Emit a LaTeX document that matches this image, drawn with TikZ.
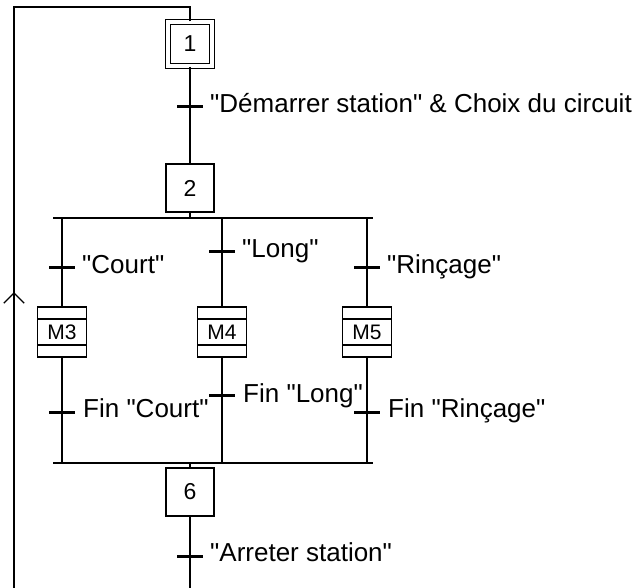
\documentclass[tikz,border=0pt]{standalone}
\usepackage{fontspec}
\setmainfont{Liberation Sans}[Ligatures=TeXOff]
\usetikzlibrary{arrows.meta}

\tikzset{
  wire/.style={line width=1.3pt},
  tbar/.style={line width=3pt},
  grafstep/.style={draw, line width=1.3pt, minimum width=48pt, minimum height=48pt,
    inner sep=0pt, font=\fontsize{23}{26}\selectfont},
  initstep/.style={grafstep, double, double distance=3.5pt,
    minimum width=44pt, minimum height=44pt},
  macrostep/.style={grafstep, minimum width=49pt, minimum height=50pt,
    font=\fontsize{21}{24}\selectfont,
    path picture={
      \draw[wire] ([yshift=-12pt]path picture bounding box.north west) -- ([yshift=-12pt]path picture bounding box.north east);
      \draw[wire] ([yshift=12pt]path picture bounding box.south west) -- ([yshift=12pt]path picture bounding box.south east);
    }},
  lbl/.style={font=\fontsize{26}{30}\selectfont, inner sep=0pt, anchor=base west}
}

\begin{document}
\begin{tikzpicture}[x=1pt,y=-1pt]
  \useasboundingbox (0,0) rectangle (639,588);
  % steps
  \node[initstep] (s1) at (190,44) {1};
  \node[grafstep] (s2) at (190,188) {2};
  \node[macrostep] (m3) at (62,332) {M3};
  \node[macrostep] (m4) at (222,332) {M4};
  \node[macrostep] (m5) at (367,332) {M5};
  \node[grafstep] (s6) at (190,492) {6};
  % helper points
  \coordinate (divL) at (53,218);
  \coordinate (divR) at (373,218);
  \coordinate (convL) at (53,463);
  \coordinate (convR) at (373,463);
  \coordinate (top) at (190,7);
  \coordinate (corner) at (14,7);
  \coordinate (bottom) at (14,588);
  \coordinate (arr) at (14,292);
  \coordinate (end6) at (190,588);
  % transitions
  \coordinate (t1) at (190,107);
  \coordinate (tc) at (62,267);
  \coordinate (tl) at (222,251);
  \coordinate (tr) at (367,267);
  \coordinate (fc) at (62,412);
  \coordinate (fl) at (222,395);
  \coordinate (fr) at (367,412);
  \coordinate (t6) at (190,556);
  % links
  \draw[wire] (s1.south) -- (s2.north);
  \draw[wire] (s2.south) -- (s2.south |- divL);
  \draw[wire] (divL) -- (divR);
  \draw[wire] (convL) -- (convR);
  \foreach \m in {m3,m4,m5} {
    \draw[wire] (\m.north |- divL) -- (\m.north);
    \draw[wire] (\m.south) -- (\m.south |- convL);
  }
  \draw[wire] (s6.north |- convL) -- (s6.north);
  \draw[wire] (s6.south) -- (end6);
  \draw[wire] (s1.north) -- (top) -- (corner) -- (bottom);
  \draw[wire, -{Straight Barb[scale=2.5]}] (bottom) -- (arr);
  \foreach \t in {t1,tc,tl,tr,fc,fl,fr,t6}
    \draw[tbar] ([xshift=-13pt]\t) -- ([xshift=13pt]\t);
  % receptivities
  \node[lbl] (r1) at (210,113) {"Démarrer station" \& Choix du circuit};
  \node[lbl] (rc) at (82,273) {"Court"};
  \node[lbl] (rl) at (242,257) {"Long"};
  \node[lbl] (rr) at (387,273) {"Rinçage"};
  \node[lbl] (fcl) at (83,417) {Fin "Court"};
  \node[lbl] (fll) at (243,402) {Fin "Long"};
  \node[lbl] (frl) at (388,417) {Fin "Rinçage"};
  \node[lbl] (r6) at (210,561) {"Arreter station"};
\end{tikzpicture}
\end{document}
